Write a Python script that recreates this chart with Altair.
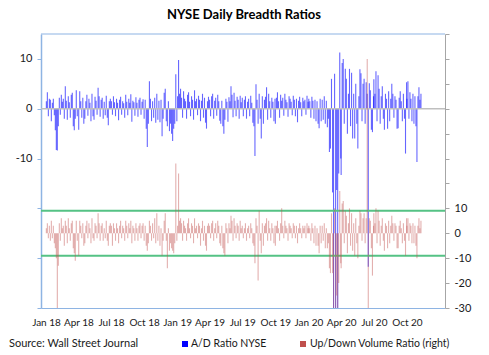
import altair as alt
import pandas as pd

# ---- A/D ratio (left axis) and Up/Down volume ratio (right axis), ~every 2nd trading day ----
blue_2018q1 = [1.5, 3.3, -1.5, 2.0, 1.8, -2.5, 1.2, 2.0, -1.3, -4.3, -8.3, -8.4, -3.5, 2.2, -1.2, 2.8,
               1.4, 2.0, -2.0, 4.5, 1.6, -2.2, 2.5, 1.3, -1.8, 2.8, 3.2, -3.5, -4.3, -2.0, 3.7, -1.5]
red_2018q1 = [2, 4, -2, 3, -3, 5, -2, 3, -4, -6, -10, -35, -13, 4, -3, 6,
              2, 3, -5, 5, 3, -4, 6, 2, -3, 4, 5, -6, -8, -11, 5, -3]
blue_2018q2 = [-4.2, 3.5, 1.5, -1.8, 2.2, -3.0, -2.0, 1.5, 2.8, -1.4, 2.0, 1.2, -2.5, 3.0, -1.5, -2.2,
               2.4, 1.6, -1.2, 4.2, 2.5, -1.6, 1.8, 2.2, -2.0, 1.4, -1.3, 2.6, -1.8, -3.3, 1.5, 2.0]
red_2018q2 = [-9, 5, 3, -2, 4, -5, -4, 3, 5, -2, 4, 2, -4, 6, -2, -3,
              4, 3, -2, 8, 4, -3, 3, 4, -3, 2, -2, 5, -3, -5, 3, 4]
blue_2018q3 = [1.5, -1.2, 2.5, 1.3, -1.5, 2.0, 1.2, -2.3, 1.8, 2.4, -1.2, 1.5, 1.1, -1.8, 2.8, 1.4,
               -1.3, 2.0, 1.2, 2.9, -2.6, 1.6, 1.3, -1.4, 2.3, 1.2, -1.6, 1.8, 2.2, -1.2, 1.4, 1.9]
red_2018q3 = [3, -5, 4, 2, -3, 4, 2, -4, 3, 5, -2, 3, 2, -3, 5, 3,
              -2, 4, 2, 5, -4, 3, 2, -3, 4, 2, -3, 3, 4, -2, 3, 4]
blue_2018q4 = [-2.0, 1.8, -4.0, -7.7, -3.0, 5.5, 2.0, -2.5, 1.5, -1.8, 2.2, -2.8, 3.0, -2.2, 1.6, -2.7,
               1.8, -5.5, -2.0, 3.2, 4.0, -2.5, -3.5, 1.5, -4.5, -3.0, -5.0, -6.5, -4.0, -3.0, 6.9, -2.5]
red_2018q4 = [-3, 3, -5, -7, -4, 5, 3, -3, 4, -2, 6, -4, 8, -3, 3, -5,
              2, -9, -3, 5, 8, -3, -14, 2, -7, -4, -6, -7, -8, -4, 28, -3]
blue_2019q1 = [2.5, 9.8, 3.0, 4.0, 2.2, -1.8, 3.5, 2.0, 1.5, -2.0, 2.8, 3.3, 1.4, -1.5, 2.5, 1.8,
               -2.2, 3.7, 1.5, 2.0, -1.3, 2.6, 1.8, -2.5, 1.6, 3.0, -1.8, 2.2, -2.8, -4.0, 1.5, 2.4]
red_2019q1 = [3, 24, 5, 6, 4, -3, 5, 3, 2, -3, 4, 6, 2, -2, 4, 3,
              -4, 6, 2, 3, -2, 4, 3, -5, 2, 5, -3, 3, -5, -7, 3, 4]
blue_2019q2 = [1.8, -1.5, 2.5, 3.0, -2.0, 1.6, 2.2, -1.4, 2.8, 1.5, -2.4, -3.0, 1.6, -3.5, -5.0, -2.2,
               2.0, 1.4, -2.6, 2.3, 1.5, 4.5, 2.8, -1.7, 3.2, 1.6, -1.5, 2.4, 1.8, -2.0, 2.6, 1.3]
red_2019q2 = [3, -2, 4, 5, -3, 2, 4, -2, 5, 3, -4, -5, 3, -6, -8, -9,
              4, 2, -4, 4, 2, 7, 5, -3, 6, 3, -2, 4, 3, -3, 5, 2]
blue_2019q3 = [2.2, -1.5, 1.8, 2.5, -2.0, 1.4, 2.0, -1.5, 2.6, 1.2, -2.8, -3.5, -9.5, 4.9, 1.8, -3.0,
               3.0, -2.0, -6.0, 2.5, -3.0, 1.8, 2.4, 4.3, -2.2, 3.0, 1.5, -1.8, 2.2, 1.4, -2.5, 2.0]
red_2019q3 = [3, -2, 2, 4, -3, 2, 3, -2, 4, 2, -4, -5, -12, 6, 3, -19,
              9, -3, -8, 4, -5, 3, 4, 6, -3, 5, 2, -3, 4, 2, -4, 3]
blue_2019q4 = [-3.0, 2.2, 3.3, 1.5, -1.8, 2.8, 1.6, 2.2, -1.4, 3.0, 1.8, 1.3, -1.6, 2.5, 2.0, 1.4,
               -1.3, 2.6, 1.8, -1.5, 2.0, -2.7, 1.6, 2.4, 1.3, -1.5, 2.2, 1.5, 1.8, -1.2, 2.6, 1.4]
red_2019q4 = [-5, 3, 5, 2, -3, 4, 10, 3, -2, 5, 3, 2, -3, 4, 3, 2,
              -2, 4, 3, -2, 3, -4, 2, 4, 2, -2, 3, 2, 3, -2, 4, 2]
blue_2020q1 = [2.0, 1.5, -1.8, 2.4, 1.6, -2.0, 1.8, -2.5, 1.5, -3.0, -3.9, 2.0, -2.5, 1.8, -2.2, 2.5,
               -3.0, 1.6, -3.7, -2.0, -8.7, -8.0, 6.0, -16.8, -44.0, 7.0, -45.0, -16.3, -42.0, -13.0, 11.3, -10.0]
red_2020q1 = [3, 2, -3, 4, 2, -4, 3, -5, 2, -5, -8, 3, -4, 3, -3, 4,
              -6, 2, -6, -4, -14, -16, 8, -16, -40, 10, -40, -25, -40, -20, 17, -12]
blue_2020q2 = [-13.3, 9.2, 10.0, -3.0, 8.0, 6.0, -5.0, 3.0, 8.0, -3.5, 7.2, -6.0, 3.0, -6.0, 5.0, -3.0,
               -8.0, 2.5, 7.9, 7.1, -2.5, 5.0, 6.0, -3.0, 5.3, 3.0, -31.7, 5.1, 3.7, -4.2, -4.7, 2.5]
red_2020q2 = [-14, 12, 13, -4, 9, 7, -8, 4, 10, -5, 8, -7, 4, -9, 6, -4,
              -10, 3, 9, 8, -3, 6, 8, -4, 6, 70, -40, 6, 5, -6, -17, 3]
blue_2020q3 = [5.9, 3.0, 7.5, -2.5, 6.7, 4.0, -3.0, 2.5, 4.5, -2.0, -4.2, 3.0, 2.0, -4.0, 3.5, -2.5,
               2.0, 5.0, 3.0, -1.8, 2.5, 1.8, -4.0, -3.9, 2.2, 3.5, 1.5, -2.5, 3.0, -2.0, -9.0, 5.3]
red_2020q3 = [8, 4, 10, -4, 9, 5, -5, 3, 6, -3, -7, 4, 3, -6, 5, -4,
              3, 7, 4, -3, 4, 3, -6, -6, 3, 5, 2, -4, 4, -3, -9, 6]
blue_2020q4 = [2.0, 5.5, -2.0, 3.3, 2.0, -2.5, 3.0, -3.0, 2.5, -3.5, -10.7, 2.5, 4.3, 1.8, 3.0]
red_2020q4 = [3, 6, -3, 4, 3, -4, 4, -4, 3, -5, -10, 3, 6, 2, 5]

segments = [
    ("2018-01-02", "2018-03-29", blue_2018q1, red_2018q1),
    ("2018-04-02", "2018-06-29", blue_2018q2, red_2018q2),
    ("2018-07-02", "2018-09-28", blue_2018q3, red_2018q3),
    ("2018-10-01", "2018-12-31", blue_2018q4, red_2018q4),
    ("2019-01-02", "2019-03-29", blue_2019q1, red_2019q1),
    ("2019-04-01", "2019-06-28", blue_2019q2, red_2019q2),
    ("2019-07-01", "2019-09-30", blue_2019q3, red_2019q3),
    ("2019-10-01", "2019-12-31", blue_2019q4, red_2019q4),
    ("2020-01-02", "2020-03-31", blue_2020q1, red_2020q1),
    ("2020-04-01", "2020-06-30", blue_2020q2, red_2020q2),
    ("2020-07-01", "2020-09-30", blue_2020q3, red_2020q3),
    ("2020-10-01", "2020-11-09", blue_2020q4, red_2020q4),
]

tick_dates = [(2018, 1), (2018, 4), (2018, 7), (2018, 10), (2019, 1), (2019, 4), (2019, 7),
              (2019, 10), (2020, 1), (2020, 4), (2020, 7), (2020, 10)]
green_levels = [9, -9]
left_ticks = [-40, -30, -20, -10, 0, 10]
right_ticks = [-30, -20, -10, 0, 10, 20, 30, 40, 50, 60, 70, 80]

rows = []
for start, end, b, r in segments:
    assert len(b) == len(r)
    dates = pd.date_range(start, end, periods=len(b))
    for d, bv, rv in zip(dates, b, r):
        rows.append({"date": d.strftime("%Y-%m-%dT%H:%M:%SZ"), "ad": bv, "ud": rv})
df = pd.DataFrame(rows)

FONT = "Lato"
TXT = "#1A1A1A"
W, H = 404, 274

x_scale = alt.Scale(type="utc",
                    domain=[alt.DateTime(year=2018, month=1, date=1, utc=True),
                            alt.DateTime(year=2021, month=1, date=1, utc=True)])
x_axis = alt.Axis(values=[alt.DateTime(year=y, month=m, date=1, utc=True) for y, m in tick_dates],
                  format="%b %y", ticks=False, grid=False, title=None, labelOverlap=False,
                  domainColor="#8EB4E3", domainWidth=1.2,
                  labelFont=FONT, labelFontSize=10, labelColor=TXT, labelPadding=9)
x_enc = alt.X("date:T", scale=x_scale, axis=x_axis)

left_scale = alt.Scale(domain=[-40, 15], nice=False, zero=False)
right_scale = alt.Scale(domain=[-30, 80], nice=False, zero=False)
left_axis = alt.Axis(values=left_ticks, labelExpr="datum.value >= -10 ? '' + datum.value : ''",
                     grid=False, title=None, domainColor="#8EB4E3", domainWidth=1.5,
                     tickColor="#8EB4E3", tickSize=4, labelPadding=5, labelOverlap=False,
                     labelFont=FONT, labelFontSize=11, labelColor=TXT)
right_axis = alt.Axis(orient="right", values=right_ticks,
                      labelExpr="datum.value <= 10 ? '' + datum.value : ''",
                      grid=False, title=None, domainColor="#A6A6A6", domainWidth=1,
                      tickColor="#A6A6A6", tickSize=4, labelPadding=5, labelOverlap=False,
                      labelFont=FONT, labelFontSize=11, labelColor=TXT)

blue = alt.Chart(df).mark_bar(width=1.1, color="#0000FF", opacity=0.6, clip=True).encode(
    x=x_enc,
    y=alt.Y("ad:Q", scale=left_scale, stack=None, axis=left_axis),
)
zero = alt.Chart(pd.DataFrame({"ad": [0]})).mark_rule(color="#BFBFBF", strokeWidth=1.5).encode(
    y=alt.Y("ad:Q", scale=left_scale, axis=left_axis))
left = alt.layer(blue, zero)

red = alt.Chart(df).mark_bar(width=1.1, color="#C0504D", opacity=0.45, clip=True).encode(
    x=x_enc,
    y=alt.Y("ud:Q", scale=right_scale, stack=None, axis=right_axis),
)
green = alt.Chart(pd.DataFrame({"ud": green_levels})).mark_rule(color="#55C285", strokeWidth=2).encode(
    y=alt.Y("ud:Q", scale=right_scale, axis=right_axis))
right = alt.layer(green, red)

one = pd.DataFrame({"a": [0]})
top_border = alt.Chart(one).mark_rule(color="#8EB4E3", strokeWidth=1.2).encode(
    x=alt.value(0), x2=alt.value(W), y=alt.value(0))
title = alt.Chart(one).mark_text(font=FONT, fontSize=13, fontWeight="bold", color="#000000",
                                 align="center", baseline="middle").encode(
    x=alt.value(203), y=alt.value(-19), text=alt.value("NYSE Daily Breadth Ratios"))
source = alt.Chart(one).mark_text(font=FONT, fontSize=11, color=TXT, align="left",
                                  baseline="middle").encode(
    x=alt.value(-32), y=alt.value(310), text=alt.value("Source: Wall Street Journal"))
leg_blue_sq = alt.Chart(one).mark_square(size=36, color="#0000FF", opacity=1).encode(
    x=alt.value(144), y=alt.value(310))
leg_blue_tx = alt.Chart(one).mark_text(font=FONT, fontSize=10.5, color=TXT, align="left",
                                       baseline="middle").encode(
    x=alt.value(150), y=alt.value(310), text=alt.value("A/D Ratio NYSE"))
leg_red_sq = alt.Chart(one).mark_square(size=36, color="#C0504D", opacity=1).encode(
    x=alt.value(262), y=alt.value(310))
leg_red_tx = alt.Chart(one).mark_text(font=FONT, fontSize=10.5, color=TXT, align="left",
                                      baseline="middle").encode(
    x=alt.value(269), y=alt.value(310), text=alt.value("Up/Down Volume Ratio (right)"))

chart = alt.layer(
    left, right, top_border, title, source, leg_blue_sq, leg_blue_tx, leg_red_sq, leg_red_tx
).resolve_scale(y="independent").properties(
    width=W, height=H,
    autosize=alt.AutoSizeParams(type="none"),
    padding={"left": 41, "top": 34, "right": 44, "bottom": 47},
    background="white",
).configure_view(stroke=None)

chart.save("out.html", embed_options={"renderer": "svg", "actions": False})
